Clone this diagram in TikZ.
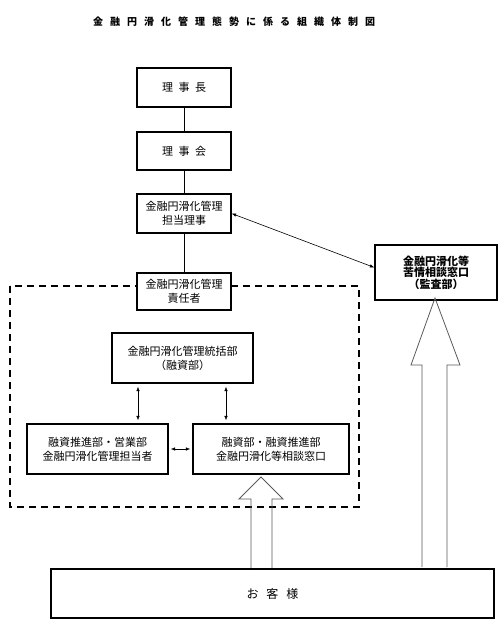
\documentclass[tikz,border=0pt]{standalone}
\usepackage{fontspec}
\setmainfont{Noto Sans CJK JP}
\usetikzlibrary{arrows.meta}

\newcommand\tgap{\hspace{7pt}}
\newcommand\bgap{\hspace{5.5pt}}

\begin{document}
\begin{tikzpicture}[x=1pt,y=-1pt,
    box/.style={draw,line width=1.3pt,fill=white,align=center,inner sep=1pt,
        font=\fontsize{11}{14}\selectfont},
    link/.style={line width=0.8pt},
    dblarrow/.style={{Latex[length=4.5pt,width=3.5pt]}-{Latex[length=4.5pt,width=3.5pt]},
        line width=0.6pt},
    blockarrow/.style={draw=black!65,line width=0.8pt,line join=miter}]
        \useasboundingbox (0,0) rectangle (500,629);
        % title
        \node[font=\fontsize{10}{12}\selectfont\bfseries] (title) at (234,22)
            {金\tgap 融\tgap 円\tgap 滑\tgap 化\tgap 管\tgap 理\tgap 態\tgap 勢\tgap に\tgap 係\tgap る\tgap 組\tgap 織\tgap 体\tgap 制\tgap 図};
        % dashed area
        \draw[line width=1.3pt,dash pattern=on 7pt off 5pt] (10,286) rectangle (359,507);
        % top line
        \node[box,
            minimum width = 94pt,
            minimum height = 39pt] (chair) at (184,87.5) {理\bgap 事\bgap 長};
        \node[box,
            minimum width = 94pt,
            minimum height = 38pt] (board) at (184,151) {理\bgap 事\bgap 会};
        \node[box,
            minimum width = 94pt,
            minimum height = 39pt] (director) at (184,213.5) {金融円滑化管理\\担当理事};
        \node[box,
            minimum width = 94pt,
            minimum height = 37pt] (officer) at (184,291.5) {金融円滑化管理\\責任者};
        \draw[link] (chair) -- (board);
        \draw[link] (board) -- (director);
        \draw[link] (director) -- (officer);
        % complaints desk
        \node[box,
            minimum width = 122pt,
            minimum height = 55pt,
            font=\fontsize{11}{11.5}\selectfont\bfseries] (desk) at (436,272.5) {金融円滑化等\\苦情相談窓口\\（監査部）};
        \draw[dblarrow] (director.east) -- ([yshift=5pt]desk.west);
        % inside the dashed area
        \node[box,
            minimum width = 141pt,
            minimum height = 50pt] (control) at (182.5,358) {金融円滑化管理統括部\\（融資部）};
        \node[box,
            minimum width = 141pt,
            minimum height = 50pt] (branch) at (97.5,449) {融資推進部・営業部\\金融円滑化管理担当者};
        \node[box,
            minimum width = 156pt,
            minimum height = 50pt] (consult) at (271,449) {融資部・融資推進部\\金融円滑化等相談窓口};
        \draw[dblarrow, shorten <=3pt, shorten >=3pt] ([xshift=-44.5pt]control.south) -- ([xshift=-44.5pt]control.south |- branch.north);
        \draw[dblarrow, shorten <=3pt, shorten >=3pt] ([xshift=43.5pt]control.south) -- ([xshift=43.5pt]control.south |- consult.north);
        \draw[dblarrow, shorten <=2pt, shorten >=2pt] (branch.east) -- (consult.west);
        % customers
        \node[box,
            line width=1.6pt,
            minimum width = 443pt,
            minimum height = 49pt,
            font=\fontsize{12}{14}\selectfont] (customer) at (272.5,593.5) {お\hspace{8pt}客\hspace{8pt}様};
        % block arrows
        \draw[blockarrow] (251,568) -- (251,499) -- (239,499) -- (261,477) -- (283,499) -- (272,499) -- (272,568);
        \draw[blockarrow] (422,567) -- (422,365) -- (411,365) -- (435,298) -- (460,365) -- (447,365) -- (447,567);
    \end{tikzpicture}
\end{document}
